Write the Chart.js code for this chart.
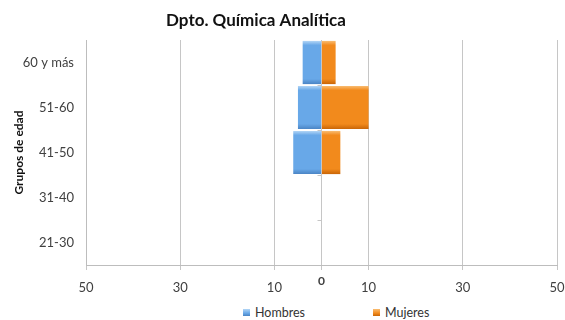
<!DOCTYPE html>
<html>
<head>
<meta charset="utf-8">
<script src="https://cdn.jsdelivr.net/npm/chart.js@4"></script>
<style>
  html, body { margin: 0; padding: 0; background: #fff; }
  #wrap { position: relative; width: 565px; height: 320px; }
  #box { position: absolute; left: 0; top: 0; width: 565px; height: 300px; }
  #legend { position: absolute; left: 0; top: 305px; width: 565px; height: 15px; font: 12.5px Lato, sans-serif; color: #333; }
  .item { position: absolute; top: 0; height: 15px; display: flex; align-items: center; }
  .sw { width: 7px; height: 7px; margin-right: 5px; }
</style>
</head>
<body>
<div id="wrap">
  <div id="box"><canvas id="chart"></canvas></div>
  <div id="legend"></div>
</div>
<script>
// --- datos ---
const grupos = ["60 y más", "51-60", "41-50", "31-40", "21-30"];
const hombres = [4, 5, 6, 0, 0];
const mujeres = [3, 10, 4, 0, 0];
const xTicks = [-50, -30, -10, 0, 10, 30, 50];
const titulo = "Dpto. Química Analítica";

// colores: [brillo arriba, cuerpo, sombra abajo]
const azul = ["#b3d6f6", "#68a8e8", "#4a84c4"];
const naranja = ["#f9bd73", "#f28a1c", "#c96506"];

// degradado vertical por barra (efecto 3D de Excel)
function barFill(cols) {
  return (c) => {
    const y = c.chart.scales.y;
    if (!y || c.dataIndex === undefined) return cols[1];
    const mid = y.getPixelForValue(c.dataIndex);
    const half = (y.height / grupos.length) * 0.96 / 2;
    if (!Number.isFinite(mid) || !Number.isFinite(half) || half <= 0) return cols[1];
    const g = c.chart.ctx.createLinearGradient(0, mid - half, 0, mid + half);
    g.addColorStop(0, cols[0]);
    g.addColorStop(0.1, cols[1]);
    g.addColorStop(0.88, cols[1]);
    g.addColorStop(1, cols[2]);
    return g;
  };
}

// titulo, el "0" del eje y las marcas del eje de categorias
const extras = {
  id: "extras",
  afterDraw(chart) {
    const { ctx, scales } = chart;
    const x0 = scales.x.getPixelForValue(0);
    ctx.save();
    ctx.fillStyle = "#111";
    ctx.font = "bold 17px Lato, sans-serif";
    ctx.textAlign = "center";
    ctx.textBaseline = "middle";
    ctx.fillText(titulo, 256, 21);
    ctx.fillStyle = "#404040";
    ctx.font = "bold 12px Lato, sans-serif";
    ctx.fillText("0", x0, 281);
    ctx.strokeStyle = "#c6c6c6";
    ctx.lineWidth = 1;
    for (let i = 0; i < grupos.length - 1; i++) {
      const yb = (scales.y.getPixelForValue(i) + scales.y.getPixelForValue(i + 1)) / 2;
      ctx.beginPath();
      ctx.moveTo(x0 - 4, Math.round(yb) + 0.5);
      ctx.lineTo(x0, Math.round(yb) + 0.5);
      ctx.stroke();
    }
    ctx.restore();
  },
};

const chart = new Chart(document.getElementById("chart"), {
  type: "bar",
  data: {
    labels: grupos,
    datasets: [
      { label: "Hombres", data: hombres.map((v) => -v), backgroundColor: barFill(azul), legendColor: azul },
      { label: "Mujeres", data: mujeres, backgroundColor: barFill(naranja), legendColor: naranja },
    ],
  },
  options: {
    indexAxis: "y",
    responsive: true,
    maintainAspectRatio: false,
    animation: false,
    layout: { padding: { top: 40, right: 8, left: 0, bottom: 0 } },
    datasets: { bar: { barPercentage: 0.96, categoryPercentage: 1 } },
    plugins: {
      legend: { display: false },
      tooltip: { enabled: false },
    },
    scales: {
      x: {
        stacked: true,
        min: -50,
        max: 50,
        afterBuildTicks: (s) => { s.ticks = xTicks.map((v) => ({ value: v })); },
        afterFit: (s) => { s.height = 35; s.paddingRight = 0; s.paddingLeft = 0; },
        ticks: {
          callback: (v) => (v === 0 ? "" : Math.abs(v)),
          font: { family: "Lato", size: 13 },
          color: "#404040",
          padding: 10,
          maxRotation: 0,
        },
        grid: { color: "#c6c6c6", tickLength: 5 },
        border: { color: "#bdbdbd" },
      },
      y: {
        stacked: true,
        afterFit: (s) => { s.width = 86; },
        ticks: { font: { family: "Lato", size: 13 }, color: "#404040", padding: 4 },
        grid: { display: false },
        border: { color: "#bdbdbd" },
        title: {
          display: true,
          text: "Grupos de edad",
          font: { family: "Lato", size: 12, weight: "bold" },
          color: "#111",
          padding: { top: 12, bottom: 0 },
        },
      },
    },
  },
  plugins: [extras],
});

// leyenda en HTML (las dos entradas van muy separadas)
const legendPos = [243, 373];
const legend = document.getElementById("legend");
chart.data.datasets.forEach((ds, i) => {
  const item = document.createElement("div");
  item.className = "item";
  item.style.left = legendPos[i] + "px";
  const sw = document.createElement("span");
  sw.className = "sw";
  sw.style.background = `linear-gradient(${ds.legendColor[0]}, ${ds.legendColor[1]} 60%, ${ds.legendColor[2]})`;
  item.appendChild(sw);
  item.appendChild(document.createTextNode(ds.label));
  legend.appendChild(item);
});
</script>
</body>
</html>
